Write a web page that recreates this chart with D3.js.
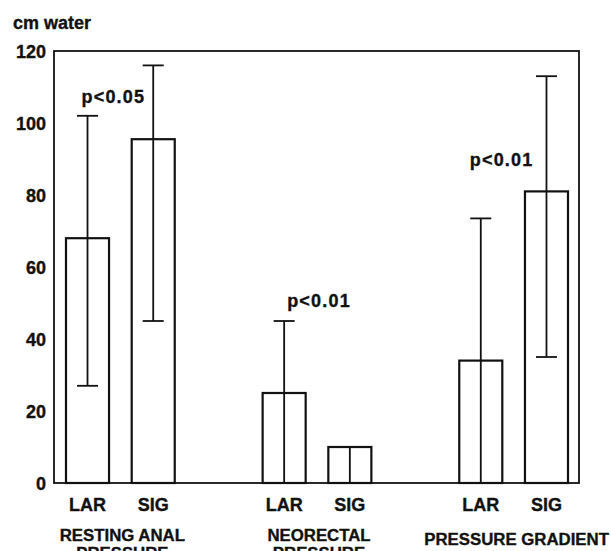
<!DOCTYPE html>
<html>
<head>
<meta charset="utf-8">
<script src="https://cdn.jsdelivr.net/npm/d3@7"></script>
<style>
  body{margin:0;background:#fff}
  svg text{font-family:"Liberation Sans",Arial,sans-serif;font-weight:bold;fill:#111;stroke:#111;stroke-width:0.35px}
</style>
</head>
<body>
<svg id="chart"></svg>
<script>
const width = 611, height = 551;

// datos (cm water)
const groups = ["RESTING ANAL|PRESSURE", "NEORECTAL|PRESSURE", "PRESSURE GRADIENT"];
const series = ["LAR", "SIG"];
const larMean = [68, 25, 34];
const sigMean = [95.5, 10, 81];
const larHi = [102, 45, 73.5];
const larLo = [27, 0, 0];
const sigHi = [116, 10, 113];
const sigLo = [45, 0, 35];
const pLabels = ["p<0.05", "p<0.01", "p<0.01"];
const pAt = [105.5, 49, 88];
const yTicks = [0, 20, 40, 60, 80, 100, 120];

const frame = {left: 54, right: 579, top: 51, bottom: 483};

const y = d3.scaleLinear().domain([0, 120]).range([frame.bottom, frame.top]);
const x0 = d3.scaleBand().domain(groups).range([66, 568]).paddingInner(0.447);
const x1 = d3.scaleBand().domain(series).range([0, x0.bandwidth()]).paddingInner(0.345);

const rows = [];
groups.forEach((g, i) => {
  rows.push({g, s: "LAR", v: larMean[i], hi: larHi[i], lo: larLo[i]});
  rows.push({g, s: "SIG", v: sigMean[i], hi: sigHi[i], lo: sigLo[i]});
});

const svg = d3.select('#chart').attr('width', width).attr('height', height);
svg.append('rect').attr('width', width).attr('height', height).attr('fill', '#fff');

// marco
svg.append('rect')
  .attr('x', frame.left).attr('y', frame.top)
  .attr('width', frame.right - frame.left).attr('height', frame.bottom - frame.top)
  .attr('fill', 'none').attr('stroke', '#111').attr('stroke-width', 1.8);

// eje y, solo etiquetas
svg.append('g')
  .attr('transform', `translate(${frame.left},0)`)
  .call(d3.axisLeft(y).tickValues(yTicks).tickSize(0).tickPadding(8))
  .call(g => g.select('.domain').remove())
  .call(g => g.selectAll('text').style('font-size', '18px').attr('dy', '0.36em'));

svg.append('text').attr('x', 13).attr('y', 29).style('font-size', '18px').text('cm water');

const cx = d => x0(d.g) + x1(d.s) + x1.bandwidth() / 2;

svg.selectAll('.bar')
  .data(rows)
  .join('rect')
    .classed('bar', true)
    .attr('x', d => x0(d.g) + x1(d.s))
    .attr('y', d => y(d.v))
    .attr('width', x1.bandwidth())
    .attr('height', d => y(0) - y(d.v))
    .attr('fill', '#fff')
    .attr('stroke', '#111')
    .attr('stroke-width', 2.2);

// barras de error
const eb = svg.selectAll('.err').data(rows).join('g').classed('err', true)
  .attr('stroke', '#111').attr('stroke-width', 1.8);
eb.append('line')
  .attr('x1', cx).attr('x2', cx)
  .attr('y1', d => y(d.hi)).attr('y2', d => y(d.lo));
eb.filter(d => d.hi > d.v).append('line')
  .attr('x1', d => cx(d) - 10.5).attr('x2', d => cx(d) + 10.5)
  .attr('y1', d => y(d.hi)).attr('y2', d => y(d.hi));
eb.filter(d => d.lo > 0).append('line')
  .attr('x1', d => cx(d) - 10.5).attr('x2', d => cx(d) + 10.5)
  .attr('y1', d => y(d.lo)).attr('y2', d => y(d.lo));

// valores p
const pShift = [-7, 2, -12];
svg.selectAll('.pval')
  .data(groups)
  .join('text')
    .classed('pval', true)
    .attr('x', (g, i) => x0(g) + x0.bandwidth() / 2 + pShift[i])
    .attr('y', (g, i) => y(pAt[i]))
    .attr('text-anchor', 'middle')
    .style('font-size', '18px')
    .style('letter-spacing', '1.2px')
    .text((g, i) => pLabels[i]);

// etiquetas LAR / SIG
svg.selectAll('.serie')
  .data(rows)
  .join('text')
    .classed('serie', true)
    .attr('x', cx)
    .attr('y', 511)
    .attr('text-anchor', 'middle')
    .style('font-size', '18px')
    .text(d => d.s);

// etiquetas de grupo
svg.selectAll('.grupo')
  .data(groups)
  .join('text')
    .classed('grupo', true)
    .attr('text-anchor', 'middle')
    .style('font-size', '16.8px')
    .attr('y', g => g.includes('|') ? 541 : 545)
    .each(function(g){
      const t = d3.select(this);
      const cxg = x0(g) + x0.bandwidth() / 2 + (g.includes('|') ? 2 : 3);
      g.split('|').forEach((line, k) => {
        t.append('tspan').attr('x', cxg).attr('dy', k ? 17.5 : 0).text(line);
      });
    });
</script>
</body>
</html>
